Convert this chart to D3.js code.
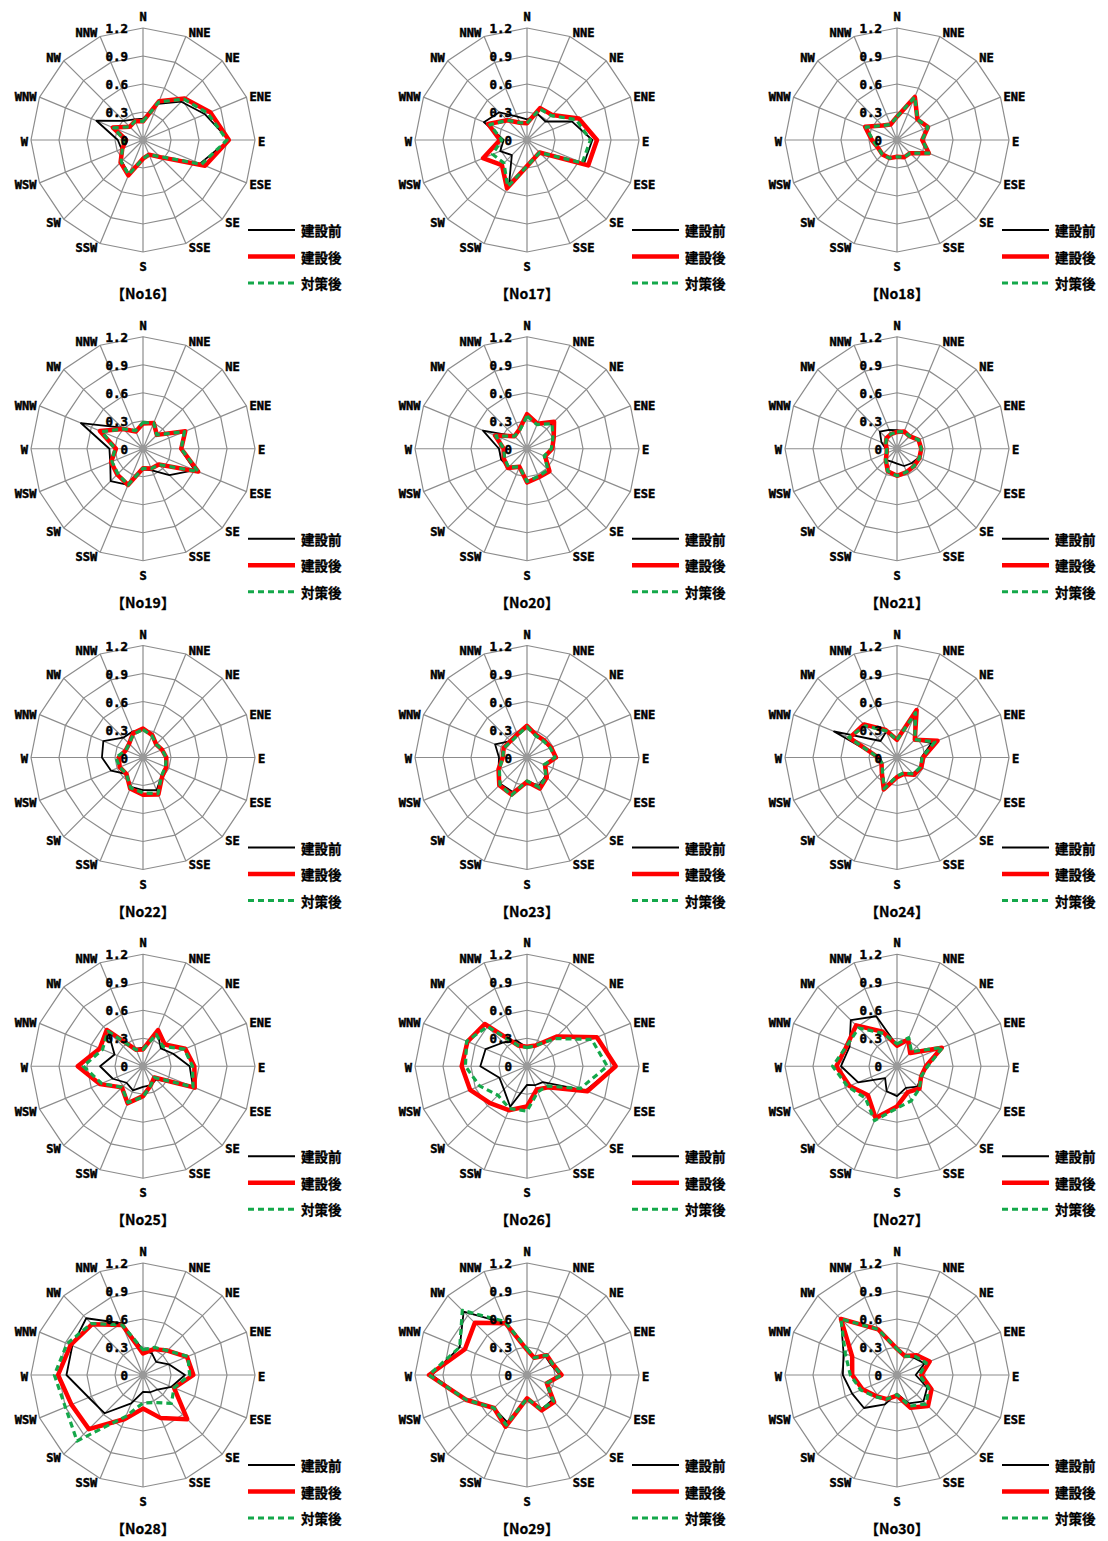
<!DOCTYPE html>
<html><head><meta charset="utf-8">
<script src="https://cdn.jsdelivr.net/npm/d3@7"></script>
<style>body{margin:0;background:#fff}</style>
</head><body>
<script>
const directions = ["N","NNE","NE","ENE","E","ESE","SE","SSE","S","SSW","SW","WSW","W","WNW","NW","NNW"];
const tickValues = [0, 0.3, 0.6, 0.9, 1.2];
const tickLabels = ["0","0.3","0.6","0.9","1.2"];
const seriesNames = ["建設前","建設後","対策後"];
const panelNames = ["No16","No17","No18","No19","No20","No21","No22","No23","No24","No25","No26","No27","No28","No29","No30"];

const no16_before = [0.23,0.42,0.58,0.72,0.92,0.66,0.25,0.16,0.2,0.4,0.32,0.25,0.27,0.54,0.29,0.24];
const no16_after  = [0.2,0.45,0.63,0.78,0.92,0.72,0.26,0.17,0.2,0.41,0.34,0.24,0.18,0.35,0.2,0.22];
const no16_measure= [0.2,0.44,0.62,0.75,0.9,0.68,0.25,0.17,0.2,0.4,0.33,0.24,0.2,0.34,0.2,0.22];

const no17_before = [0.22,0.3,0.28,0.52,0.7,0.66,0.2,0.2,0.28,0.5,0.23,0.31,0.25,0.5,0.42,0.27];
const no17_after  = [0.18,0.37,0.38,0.6,0.75,0.71,0.19,0.21,0.28,0.56,0.38,0.51,0.29,0.45,0.3,0.2];
const no17_measure= [0.18,0.36,0.37,0.57,0.68,0.64,0.19,0.21,0.28,0.54,0.35,0.4,0.27,0.43,0.3,0.2];

const no18_before = [0.25,0.5,0.31,0.36,0.27,0.37,0.2,0.2,0.18,0.21,0.22,0.22,0.26,0.36,0.22,0.18];
const no18_after  = [0.25,0.5,0.31,0.36,0.27,0.37,0.2,0.2,0.18,0.21,0.22,0.22,0.27,0.37,0.22,0.18];
const no18_measure= [0.25,0.5,0.31,0.36,0.27,0.37,0.2,0.2,0.18,0.21,0.22,0.22,0.26,0.36,0.22,0.18];

const no19_before = [0.27,0.29,0.2,0.49,0.4,0.6,0.4,0.25,0.22,0.42,0.49,0.38,0.36,0.72,0.32,0.2];
const no19_after  = [0.27,0.3,0.21,0.49,0.41,0.64,0.24,0.23,0.21,0.42,0.39,0.37,0.29,0.5,0.3,0.2];
const no19_measure= [0.28,0.3,0.21,0.48,0.41,0.64,0.24,0.23,0.21,0.42,0.38,0.36,0.3,0.48,0.3,0.21];

const no20_before = [0.36,0.29,0.38,0.3,0.28,0.21,0.33,0.33,0.37,0.21,0.27,0.3,0.3,0.51,0.19,0.22];
const no20_after  = [0.37,0.29,0.41,0.31,0.27,0.21,0.34,0.33,0.36,0.21,0.29,0.27,0.25,0.37,0.19,0.22];
const no20_measure= [0.35,0.28,0.38,0.3,0.26,0.2,0.32,0.32,0.35,0.21,0.28,0.26,0.25,0.36,0.19,0.21];

const no21_before = [0.2,0.2,0.19,0.24,0.26,0.25,0.22,0.2,0.16,0.15,0.17,0.12,0.12,0.18,0.26,0.22];
const no21_after  = [0.18,0.2,0.19,0.25,0.26,0.26,0.26,0.27,0.29,0.26,0.17,0.12,0.11,0.13,0.16,0.17];
const no21_measure= [0.18,0.2,0.19,0.25,0.26,0.26,0.26,0.27,0.29,0.26,0.17,0.12,0.11,0.13,0.16,0.17];

const no22_before = [0.3,0.26,0.2,0.22,0.24,0.26,0.28,0.38,0.35,0.34,0.25,0.37,0.44,0.46,0.3,0.3];
const no22_after  = [0.31,0.26,0.2,0.22,0.25,0.27,0.29,0.43,0.4,0.36,0.25,0.27,0.26,0.2,0.21,0.28];
const no22_measure= [0.3,0.25,0.2,0.22,0.25,0.26,0.28,0.42,0.38,0.35,0.25,0.27,0.29,0.2,0.21,0.27];

const no23_before = [0.33,0.25,0.25,0.27,0.3,0.2,0.28,0.33,0.25,0.4,0.4,0.33,0.3,0.37,0.25,0.26];
const no23_after  = [0.34,0.26,0.26,0.28,0.31,0.21,0.3,0.36,0.26,0.43,0.42,0.33,0.26,0.27,0.25,0.27];
const no23_measure= [0.33,0.25,0.25,0.27,0.3,0.2,0.29,0.35,0.25,0.44,0.41,0.32,0.26,0.27,0.24,0.26];

const no24_before = [0.2,0.48,0.27,0.4,0.26,0.27,0.24,0.18,0.2,0.34,0.22,0.17,0.19,0.73,0.25,0.3];
const no24_after  = [0.19,0.55,0.27,0.47,0.28,0.28,0.26,0.19,0.21,0.37,0.23,0.18,0.2,0.55,0.5,0.32];
const no24_measure= [0.19,0.52,0.27,0.44,0.27,0.27,0.25,0.18,0.2,0.36,0.22,0.17,0.2,0.56,0.48,0.31];

const no25_before = [0.2,0.4,0.27,0.35,0.5,0.58,0.2,0.22,0.22,0.28,0.25,0.35,0.46,0.33,0.53,0.2];
const no25_after  = [0.18,0.42,0.33,0.49,0.55,0.6,0.17,0.22,0.32,0.43,0.32,0.5,0.7,0.5,0.55,0.19];
const no25_measure= [0.18,0.37,0.3,0.48,0.53,0.58,0.17,0.22,0.33,0.42,0.32,0.48,0.64,0.47,0.53,0.19];

const no26_before = [0.2,0.24,0.45,0.8,0.95,0.68,0.24,0.22,0.2,0.47,0.35,0.32,0.5,0.48,0.36,0.3];
const no26_after  = [0.21,0.24,0.45,0.81,0.95,0.7,0.32,0.27,0.43,0.51,0.56,0.66,0.7,0.69,0.64,0.24];
const no26_measure= [0.2,0.24,0.42,0.75,0.86,0.62,0.3,0.3,0.48,0.49,0.44,0.55,0.66,0.7,0.6,0.24];

const no27_before = [0.22,0.3,0.2,0.5,0.33,0.28,0.31,0.25,0.32,0.29,0.18,0.45,0.6,0.55,0.7,0.58];
const no27_after  = [0.22,0.31,0.2,0.52,0.31,0.28,0.34,0.3,0.43,0.6,0.44,0.55,0.65,0.58,0.62,0.4];
const no27_measure= [0.24,0.33,0.22,0.53,0.33,0.28,0.34,0.4,0.45,0.63,0.48,0.57,0.69,0.58,0.58,0.38];

const no28_before = [0.27,0.25,0.2,0.3,0.45,0.33,0.22,0.2,0.18,0.33,0.58,0.63,0.82,0.82,0.86,0.6];
const no28_after  = [0.23,0.3,0.37,0.51,0.54,0.36,0.67,0.5,0.36,0.51,0.82,0.83,0.91,0.84,0.77,0.58];
const no28_measure= [0.27,0.32,0.37,0.52,0.5,0.36,0.43,0.32,0.3,0.48,1.0,0.9,0.95,0.88,0.78,0.58];

const no29_before = [0.27,0.2,0.28,0.28,0.35,0.22,0.38,0.4,0.25,0.55,0.5,0.7,1.02,0.78,0.96,0.6];
const no29_after  = [0.27,0.2,0.3,0.3,0.37,0.23,0.41,0.41,0.25,0.6,0.5,0.7,1.05,0.72,0.79,0.6];
const no29_measure= [0.28,0.2,0.3,0.3,0.37,0.23,0.4,0.4,0.25,0.58,0.5,0.7,1.05,0.78,0.98,0.62];

const no30_before = [0.28,0.22,0.26,0.32,0.2,0.35,0.4,0.33,0.2,0.34,0.5,0.52,0.58,0.62,0.85,0.52];
const no30_after  = [0.28,0.22,0.3,0.38,0.26,0.4,0.47,0.38,0.22,0.28,0.32,0.4,0.48,0.52,0.85,0.53];
const no30_measure= [0.28,0.22,0.28,0.34,0.24,0.37,0.44,0.36,0.21,0.28,0.33,0.42,0.5,0.6,0.85,0.53];

const panelSeries = [
  [no16_before,no16_after,no16_measure],[no17_before,no17_after,no17_measure],[no18_before,no18_after,no18_measure],
  [no19_before,no19_after,no19_measure],[no20_before,no20_after,no20_measure],[no21_before,no21_after,no21_measure],
  [no22_before,no22_after,no22_measure],[no23_before,no23_after,no23_measure],[no24_before,no24_after,no24_measure],
  [no25_before,no25_after,no25_measure],[no26_before,no26_after,no26_measure],[no27_before,no27_after,no27_measure],
  [no28_before,no28_after,no28_measure],[no29_before,no29_after,no29_measure],[no30_before,no30_after,no30_measure]
];

const W = 1108, H = 1541;
const colX = [143, 527, 897];
const rowY0 = 140, rowStep = 308.75;
const R = 112;
const gridColor = "#8c8c8c";
const seriesStyle = [
  {color:"#000000", width:1.8, dash:null},
  {color:"#ff0000", width:4.5, dash:null},
  {color:"#14a84a", width:3.2, dash:"6,4"}
];
const monoFont = "'DejaVu Sans Mono', monospace";
const cjkFont = "'Noto Sans CJK JP', sans-serif";
// vertical nudge of direction labels (indexes 1..7, mirrored for 9..15)
const labelDy = [0, -3.5, -3, 0, 1.5, 2.5, 4, 4.5];

const rScale = d3.scaleLinear().domain([0, 1.2]).range([0, R]);
const aScale = d3.scaleLinear().domain([0, directions.length]).range([0, 2*Math.PI]);

const svg = d3.select("body").append("svg").attr("width", W).attr("height", H)
  .style("background", "#fff");

const radial = d3.lineRadial()
  .angle((d,i) => aScale(i))
  .radius(d => rScale(d))
  .curve(d3.curveLinearClosed);

function boldText(sel, w) {
  return sel.attr("font-weight", "bold").attr("fill", "#000")
    .attr("stroke", "#000").attr("stroke-width", w).attr("paint-order", "stroke");
}

panelNames.forEach((name, p) => {
  const cx = colX[p % 3], cy = rowY0 + rowStep * Math.floor(p / 3);
  const g = svg.append("g").attr("transform", `translate(${cx},${cy})`);

  tickValues.filter(v => v > 0).forEach(v => {
    g.append("path").attr("d", radial(directions.map(() => v)))
      .attr("fill", "none").attr("stroke", gridColor).attr("stroke-width", 1.2);
  });
  directions.forEach((d, i) => {
    const a = aScale(i);
    g.append("line").attr("x1", 0).attr("y1", 0)
      .attr("x2", rScale(1.2) * Math.sin(a)).attr("y2", -rScale(1.2) * Math.cos(a))
      .attr("stroke", gridColor).attr("stroke-width", 1.2);
  });
  g.append("circle").attr("r", 4).attr("fill", "#999");

  panelSeries[p].forEach((vals, s) => {
    const st = seriesStyle[s];
    g.append("path").attr("d", radial(vals))
      .attr("fill", "none").attr("stroke", st.color).attr("stroke-width", st.width)
      .attr("stroke-linejoin", "round")
      .attr("stroke-dasharray", st.dash);
  });

  tickValues.forEach((v, i) => {
    boldText(g.append("text").attr("x", -15).attr("y", -rScale(v) + 0.5)
      .attr("text-anchor", "end").attr("dominant-baseline", "central")
      .attr("font-family", monoFont).attr("font-size", 12.5), 0.5).text(tickLabels[i]);
  });

  directions.forEach((d, i) => {
    const a = aScale(i);
    const vx = R * Math.sin(a), vy = -R * Math.cos(a);
    let x, y, anchor;
    if (i === 0) { x = 0; y = vy - 11; anchor = "middle"; }
    else if (i === 8) { x = 0; y = vy + 15; anchor = "middle"; }
    else if (i < 8) { x = vx + 3; y = vy + labelDy[i]; anchor = "start"; }
    else { x = vx - 3; y = vy + labelDy[16 - i]; anchor = "end"; }
    boldText(g.append("text").attr("x", x).attr("y", y)
      .attr("text-anchor", anchor).attr("dominant-baseline", "central")
      .attr("font-family", monoFont).attr("font-size", 12), 0.5).text(d);
  });

  const legY = [90, 116.5, 143];
  seriesNames.forEach((nm, s) => {
    const st = seriesStyle[s];
    g.append("line").attr("x1", 105).attr("x2", 152).attr("y1", legY[s]).attr("y2", legY[s])
      .attr("stroke", st.color).attr("stroke-width", st.width).attr("stroke-dasharray", st.dash);
    boldText(g.append("text").attr("x", 158).attr("y", legY[s])
      .attr("dominant-baseline", "central")
      .attr("font-family", cjkFont).attr("font-size", 13.5), 0.3).text(nm);
  });

  boldText(g.append("text").attr("x", 0).attr("y", 153)
    .attr("text-anchor", "middle").attr("dominant-baseline", "central")
    .attr("font-family", cjkFont).attr("font-size", 14), 0.3).text("【" + name + "】");
});
</script>
</body></html>
